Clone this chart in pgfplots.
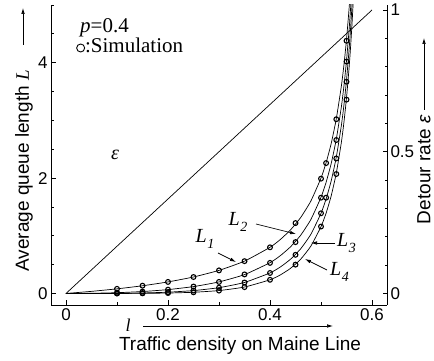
\documentclass[border=0pt]{standalone}
\usepackage{fontspec}
\setmainfont{Liberation Serif}
\setsansfont{Liberation Sans}
\usepackage{pgfplots}
\pgfplotsset{compat=1.18}
\usetikzlibrary{arrows.meta}
\newcommand\Lk[1]{\textit{L}\kern0.5bp\raisebox{-0.3em}{\fontsize{14bp}{14bp}\selectfont\textit{#1}}}
\tikzset{lab/.style={font=\fontsize{20bp}{20bp}\selectfont, inner sep=0pt},
         arr/.style={line width=0.7bp, -{Latex[length=6bp,width=3.6bp]}}}
\pgfplotstableread{
l      L1      L2      L3      L4
0      0       0       0       0
0.05   0.0364  0.0030  0.0003  0.0000
0.1    0.0800  0.0133  0.0022  0.0004
0.15   0.1333  0.0333  0.0083  0.0021
0.2    0.2000  0.0667  0.0222  0.0074
0.25   0.2857  0.1190  0.0496  0.0207
0.3    0.4000  0.2000  0.1000  0.0500
0.35   0.5600  0.3267  0.1906  0.1112
0.4    0.8000  0.5333  0.3556  0.2370
0.42   0.9333  0.6533  0.4573  0.3201
0.44   1.1000  0.8067  0.5916  0.4338
0.46   1.3143  1.0076  0.7725  0.5923
0.48   1.6000  1.2800  1.0240  0.8192
0.5    2.0000  1.6667  1.3889  1.1574
0.51   2.2667  1.9267  1.6377  1.3920
0.52   2.6000  2.2533  1.9529  1.6925
0.53   3.0286  2.6752  2.3631  2.0874
0.54   3.6000  3.2400  2.9160  2.6244
0.545  3.9636  3.6003  3.2703  2.9705
0.55   4.4000  4.0333  3.6972  3.3891
0.555  4.9333  4.5633  4.2211  3.9045
0.5575 5.2471  4.8754  4.5301  4.2092
0.56   5.6000  5.2267  4.8782  4.5530
0.5625 6.0000  5.6250  5.2734  4.9439
0.565  6.4571  6.0805  5.7258  5.3918
}\theory
\pgfplotstableread{
l     L
0.1   0.080
0.15  0.135
0.2   0.200
0.25  0.285
0.3   0.400
0.35  0.560
0.4   0.800
0.45  1.220
0.5   1.990
0.51  2.260
0.53  3.020
0.55  4.380
0.1   0.013
0.15  0.033
0.2   0.066
0.25  0.120
0.3   0.200
0.35  0.330
0.4   0.530
0.45  0.890
0.5   1.660
0.53  2.660
0.55  4.020
0.1   0.002
0.15  0.008
0.2   0.022
0.25  0.050
0.3   0.100
0.35  0.190
0.4   0.355
0.45  0.670
0.5   1.390
0.51  1.660
0.53  2.340
0.55  3.670
0.1   0.000
0.15  0.002
0.2   0.007
0.25  0.020
0.3   0.050
0.35  0.110
0.4   0.237
0.45  0.500
0.5   1.160
0.53  2.070
0.55  3.360
}\sim
\begin{document}
\begin{tikzpicture}
\path[use as bounding box] (0,0) rectangle (434bp,361bp);
\begin{axis}[
  at={(51bp,56bp)}, anchor=south west, scale only axis,
  width=336bp, height=300bp,
  xmin=-0.0294, xmax=0.6294, ymin=-0.2, ymax=5,
  axis x line*=bottom, axis y line*=left,
  tick align=inside, major tick length=4.5bp, minor tick length=2.5bp,
  xtick={0,0.2,0.4,0.6}, minor xtick={0.1,0.3,0.5},
  ytick={0,2,4}, minor ytick={0.5,1,1.5,2.5,3,3.5,4.5,5},
  ticklabel style={font=\sffamily\fontsize{17bp}{20bp}\selectfont},
  /pgf/number format/assume math mode=true,
  axis line style={line width=0.8bp},
  tick style={line width=0.7bp, black},
]
\addplot[black, line width=0.7bp, smooth, tension=0.3] table[x=l, y=L1] {\theory};
\addplot[black, line width=0.7bp, smooth, tension=0.3] table[x=l, y=L2] {\theory};
\addplot[black, line width=0.7bp, smooth, tension=0.3] table[x=l, y=L3] {\theory};
\addplot[black, line width=0.7bp, smooth, tension=0.3] table[x=l, y=L4] {\theory};
\addplot[only marks, mark=o, mark size=2.4bp, mark options={line width=1.1bp, black}] table[x=l, y=L] {\sim};
\end{axis}
\begin{axis}[
  at={(51bp,56bp)}, anchor=south west, scale only axis,
  width=336bp, height=300bp,
  xmin=-0.0294, xmax=0.6294, ymin=-0.0406, ymax=1.0176,
  axis x line=none, axis y line*=right, xtick=\empty,
  tick align=inside, major tick length=4.5bp, minor tick length=2.5bp,
  ytick={0,0.5,1}, minor ytick={0.1,0.2,0.3,0.4,0.6,0.7,0.8,0.9},
  ticklabel style={font=\sffamily\fontsize{17bp}{20bp}\selectfont},
  /pgf/number format/assume math mode=true,
  axis line style={line width=0.8bp},
  tick style={line width=0.7bp, black},
]
\addplot[black, line width=0.7bp] coordinates {(0,0) (0.6,1)};
\end{axis}
% annotations
\node[anchor=base west, inner sep=0pt, font=\fontsize{21bp}{21bp}\selectfont] at (80bp,328bp) {\textit{p}=0.4};
\node[anchor=base west, inner sep=0pt, font=\fontsize{21bp}{21bp}\selectfont] at (76bp,308bp)
  {\tikz[baseline=-0.5bp]\draw[line width=0.9bp] (0,4.5bp) circle (4bp);:Simulation};
\node[lab] at (115bp,206bp) {\textit{ε}};
\node[lab, anchor=center] at (205bp,122bp) {\Lk{1}};
\draw[arr] (218bp,108bp) -- (236bp,99bp);
\node[lab, anchor=center] at (238bp,139bp) {\Lk{2}};
\draw[arr] (256bp,137bp) -- (296bp,127bp);
\node[lab, anchor=west] at (337bp,118bp) {\Lk{3}};
\draw[arr] (335bp,118bp) -- (311bp,118bp);
\node[lab, anchor=west] at (330bp,89bp) {\Lk{4}};
\draw[arr] (327bp,91bp) -- (305bp,102bp);
% y labels
\node[rotate=90, anchor=east, inner sep=0pt, font=\sffamily\fontsize{19bp}{19bp}\selectfont] at (24bp,291bp) {Average queue length \textrm{\textit{L}}};
\draw[arr] (23bp,316bp) -- (23bp,353bp);
\node[rotate=90, anchor=east, inner sep=0pt, font=\sffamily\fontsize{19bp}{19bp}\selectfont] at (424bp,246bp) {Detour rate \textit{ε}};
\draw[arr] (424bp,251bp) -- (424bp,323bp);
% x label
\node[anchor=base, inner sep=0pt, font=\sffamily\fontsize{19bp}{19bp}\selectfont] at (240bp,11bp) {Traffic density on Maine Line};
\node[lab, anchor=center, font=\fontsize{18bp}{18bp}\selectfont] at (128bp,36bp) {\textit{l}};
\draw[arr] (143bp,35bp) -- (333bp,35bp);
\end{tikzpicture}
\end{document}
